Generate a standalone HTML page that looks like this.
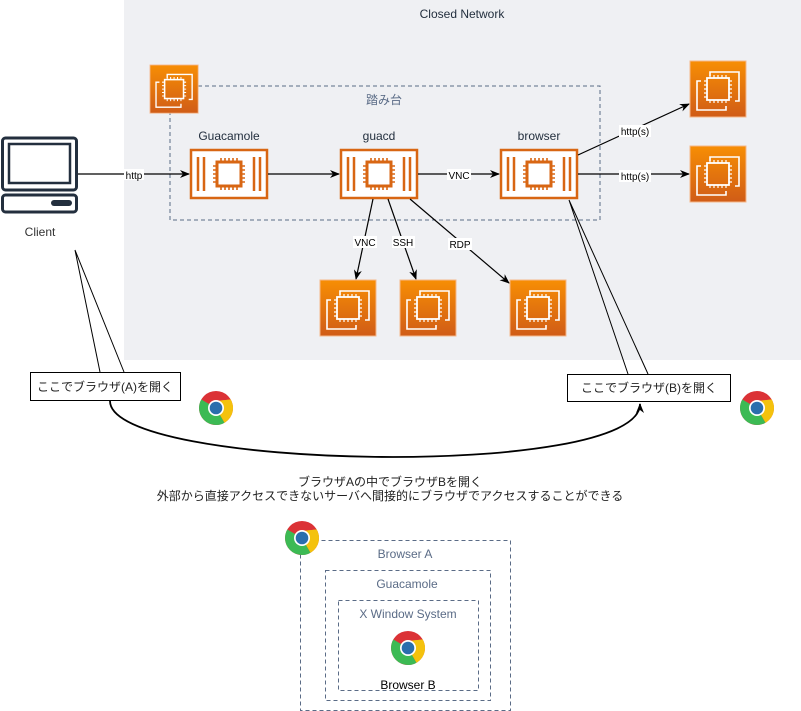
<!DOCTYPE html>
<html><head><meta charset="utf-8"><style>
html,body{margin:0;padding:0;background:#fff;}
svg{display:block;font-family:"Liberation Sans","Noto Sans CJK JP",sans-serif;}
</style></head><body>
<svg width="801" height="711" viewBox="0 0 801 711" xmlns="http://www.w3.org/2000/svg">
<defs>
<linearGradient id="og" x1="0" y1="0" x2="0" y2="1"><stop offset="0" stop-color="#f78e04"/><stop offset="1" stop-color="#d05c17"/></linearGradient>
<g id="ec2">
<rect x="0" y="0" width="56" height="56" fill="url(#og)" stroke="#f5b78a" stroke-width="1"/>
<path d="M20 15 V11 H49 V40 H45 M36 45 V49 H7 V20 H11" fill="none" stroke="#fff" stroke-width="1.6"/>
<rect x="17" y="17" width="22" height="22" fill="none" stroke="#fff" stroke-width="1.8"/>
<path d="M20 14v3M24 14v3M28 14v3M32 14v3M36 14v3M20 39v3M24 39v3M28 39v3M32 39v3M36 39v3M14 20h3M14 24h3M14 28h3M14 32h3M14 36h3M39 20h3M39 24h3M39 28h3M39 32h3M39 36h3" stroke="#fff" stroke-width="1.2"/>
</g>
<g id="inst">
<rect x="1" y="1" width="76" height="48" fill="#fff" stroke="#d86613" stroke-width="2.5"/>
<path d="M8 8v34M14 8v34M64 8v34M70 8v34" stroke="#d86613" stroke-width="2.5"/>
<rect x="27" y="13" width="24" height="24" fill="none" stroke="#d86613" stroke-width="3"/>
<path d="M31 9v4M35 9v4M39 9v4M43 9v4M47 9v4M31 37v4M35 37v4M39 37v4M43 37v4M47 37v4M23 17h4M23 21h4M23 25h4M23 29h4M23 33h4M51 17h4M51 21h4M51 25h4M51 29h4M51 33h4" stroke="#d86613" stroke-width="1.6"/>
</g>
<g id="chrome">
<circle r="17" fill="#db3236"/>
<path d="M0 0 L-14.7 -8.5 A17 17 0 0 0 8.5 14.7 Z" fill="#3cba54"/>
<path d="M0 0 L17 0 A17 17 0 0 1 8.5 14.7 Z M0 0 L0 -7 L14.7 -8.5 A17 17 0 0 1 17 0 Z" fill="#f4c20d"/>
<path d="M0 -7 L14.7 -8.5 L17 0 L7 0 Z" fill="#f4c20d"/>
<circle r="8" fill="#fff"/>
<circle r="6.3" fill="#2a6ead"/>
</g>
<marker id="ar" markerWidth="10" markerHeight="10" refX="9" refY="5" orient="auto" markerUnits="userSpaceOnUse"><path d="M0 1 L10 5 L0 9 L3 5 Z" fill="#000"/></marker>
</defs>

<rect x="124" y="0" width="677" height="360" fill="#eff0f3"/>
<text x="462" y="18" font-size="12" fill="#232f3e" text-anchor="middle">Closed Network</text>

<rect x="170" y="86" width="430" height="134" fill="none" stroke="#5a6b86" stroke-dasharray="4 3"/>
<use href="#ec2" x="150" y="65" transform="translate(150,65) scale(0.86) translate(-150,-65)"/>
<text x="384" y="104" font-size="12" fill="#5a6b86" text-anchor="middle">踏み台</text>

<text x="229" y="140" font-size="12" fill="#232f3e" text-anchor="middle">Guacamole</text>
<text x="379" y="140" font-size="12" fill="#232f3e" text-anchor="middle">guacd</text>
<text x="539" y="140" font-size="12" fill="#232f3e" text-anchor="middle">browser</text>
<use href="#inst" x="190" y="149"/>
<use href="#inst" x="340" y="149"/>
<use href="#inst" x="500" y="149"/>

<!-- Client -->
<rect x="2.5" y="138" width="74" height="52" rx="3" fill="none" stroke="#232f3e" stroke-width="3"/>
<rect x="9" y="144" width="61" height="39" fill="none" stroke="#232f3e" stroke-width="2.5"/>
<rect x="2.5" y="195" width="74" height="17" rx="3" fill="none" stroke="#232f3e" stroke-width="3"/>
<rect x="51" y="200" width="21" height="6" rx="3" fill="#232f3e"/>
<text x="40" y="236" font-size="12" fill="#333" text-anchor="middle">Client</text>

<g stroke="#000" stroke-width="1.2" fill="none" marker-end="url(#ar)">
<line x1="78" y1="174" x2="189" y2="174"/>
<line x1="268" y1="174" x2="339" y2="174"/>
<line x1="418" y1="174" x2="499" y2="174"/>
<line x1="578" y1="174" x2="689" y2="174"/>
<line x1="578" y1="155" x2="689" y2="104"/>
<line x1="373" y1="199" x2="356" y2="279"/>
<line x1="388" y1="199" x2="416" y2="279"/>
<line x1="410" y1="199" x2="509" y2="283"/>
</g>
<g font-size="10" text-anchor="middle" fill="#000">
<rect x="124" y="169" width="20" height="11" fill="#fff"/><text x="134" y="179">http</text>
<rect x="447" y="169" width="24" height="11" fill="#fff"/><text x="459" y="179">VNC</text>
<rect x="619" y="125" width="32" height="12" fill="#fff"/><text x="635" y="135">http(s)</text>
<rect x="619" y="170" width="32" height="12" fill="#fff"/><text x="635" y="180">http(s)</text>
<rect x="353" y="236" width="24" height="12" fill="#fff"/><text x="365" y="246">VNC</text>
<rect x="392" y="236" width="23" height="12" fill="#fff"/><text x="403" y="246">SSH</text>
<rect x="448" y="238" width="24" height="12" fill="#fff"/><text x="460" y="248">RDP</text>
</g>

<use href="#ec2" x="690" y="61"/>
<use href="#ec2" x="690" y="146"/>
<use href="#ec2" x="320" y="280"/>
<use href="#ec2" x="400" y="280"/>
<use href="#ec2" x="510" y="280"/>

<!-- callouts -->
<path d="M75 250 L100 372 M124 372 L75 250" stroke="#000" fill="none"/>
<path d="M569 200 L628 374 M648 374 L569 200" stroke="#000" fill="none"/>
<rect x="30.5" y="372.5" width="150" height="28" fill="#fff" stroke="#000"/>
<text x="105" y="391" font-size="12" text-anchor="middle" fill="#222">ここでブラウザ(A)を開く</text>
<rect x="567.5" y="374.5" width="163" height="27" fill="#fff" stroke="#000"/>
<text x="649" y="392" font-size="12" text-anchor="middle" fill="#222">ここでブラウザ(B)を開く</text>

<path d="M110 401 C110 470 640 480 640 404" fill="none" stroke="#000" stroke-width="1.8" marker-end="url(#ar)"/>
<text x="390" y="486" font-size="12" text-anchor="middle" fill="#222">ブラウザAの中でブラウザBを開く</text>
<text x="390" y="500" font-size="12" text-anchor="middle" fill="#222">外部から直接アクセスできないサーバへ間接的にブラウザでアクセスすることができる</text>

<use href="#chrome" x="216" y="408"/>
<use href="#chrome" x="757" y="408"/>

<rect x="300.5" y="540.5" width="210" height="170" fill="none" stroke="#5a6b86" stroke-dasharray="4 3"/>
<rect x="325.5" y="570.5" width="165" height="130" fill="none" stroke="#5a6b86" stroke-dasharray="4 3"/>
<rect x="338.5" y="600.5" width="140" height="90" fill="none" stroke="#5a6b86" stroke-dasharray="4 3"/>
<use href="#chrome" x="302" y="538"/>
<use href="#chrome" x="408" y="648"/>
<text x="405" y="558" font-size="12" text-anchor="middle" fill="#5a6b86">Browser A</text>
<text x="407" y="588" font-size="12" text-anchor="middle" fill="#5a6b86">Guacamole</text>
<text x="408" y="618" font-size="12" text-anchor="middle" fill="#5a6b86">X Window System</text>
<text x="408" y="689" font-size="12" text-anchor="middle" fill="#000">Browser B</text>
</svg>
</body></html>
